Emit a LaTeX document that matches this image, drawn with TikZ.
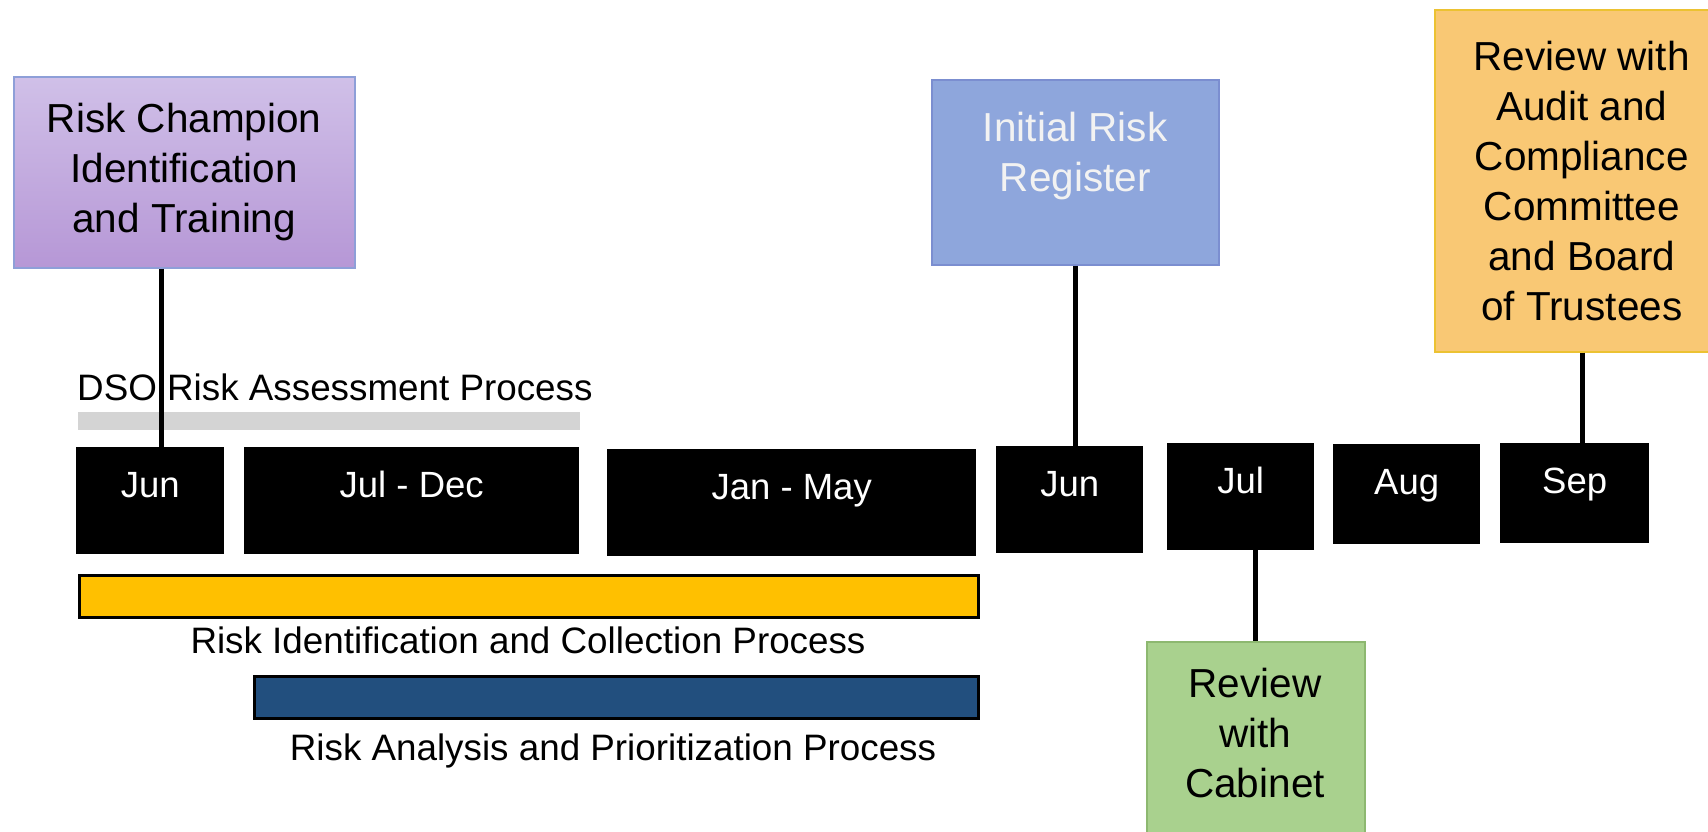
\documentclass[tikz,border=0pt]{standalone}
\usepackage{fontspec}
\setmainfont{Liberation Sans}
\definecolor{purpTop}{HTML}{D0C0E8}
\definecolor{purpBot}{HTML}{B697D6}
\definecolor{purpLine}{HTML}{8E9FD8}
\definecolor{regFill}{HTML}{8EA6DC}
\definecolor{regLine}{HTML}{7B8ED0}
\definecolor{audFill}{HTML}{F9C874}
\definecolor{audLine}{HTML}{ECC232}
\definecolor{grnFill}{HTML}{A9D18E}
\definecolor{grnLine}{HTML}{8DB870}
\definecolor{yelBar}{HTML}{FFC000}
\definecolor{bluBar}{HTML}{224F7E}
\definecolor{grayBar}{HTML}{D4D4D4}
\begin{document}
\begin{tikzpicture}[x=1pt,y=-1pt,
  lbl/.style={font=\fontsize{36.8}{44}\selectfont, inner sep=0pt},
  boxtext/.style={font=\fontsize{40.5}{50}\selectfont, align=center, inner sep=0pt},
  bigbox/.style={anchor=north west, inner sep=0pt, line width=1.5pt},
  month/.style={anchor=north west, fill=black, inner sep=0pt, text=white,
    font=\fontsize{36.5}{44}\selectfont, text height=50pt},
  bar/.style={anchor=north west, inner sep=0pt, draw=black, line width=3pt},
  conn/.style={line width=5pt, black}]
\useasboundingbox (0,0) rectangle (1708,831);

% top / bottom milestone boxes
\node[bigbox, draw=purpLine, top color=purpTop, bottom color=purpBot,
  minimum width=341, minimum height=191, boxtext] (champ) at (13,76)
  {Risk Champion\\Identification\\and Training};
\node[bigbox, draw=regLine, fill=regFill, minimum width=287, minimum height=185] (reg) at (931,79) {};
\node[boxtext, text=white!95!black] (regt) at ([yshift=16pt]reg.center) {Initial Risk\\Register};
\node[bigbox, draw=audLine, fill=audFill, minimum width=294, minimum height=342, boxtext] (aud) at (1434,9)
  {Review with\\Audit and\\Compliance\\Committee\\and Board\\of Trustees};
\node[bigbox, draw=grnLine, fill=grnFill, minimum width=218, minimum height=200] (grn) at (1146,641) {};
\node[boxtext] (grnt) at (1255,733) {Review\\with\\Cabinet};

% DSO process
\node[lbl, anchor=base west] (dso) at (77,400) {DSO Risk Assessment Process};
\node[anchor=north west, inner sep=0pt, fill=grayBar, minimum width=502, minimum height=18] (dsobar) at (78,412) {};

% months
\node[month, minimum width=148, minimum height=107, text depth=57pt] (m1) at (76,447) {Jun};
\node[month, minimum width=335, minimum height=107, text depth=57pt] (m2) at (244,447) {Jul - Dec};
\node[month, minimum width=369, minimum height=107, text depth=57pt] (m3) at (607,449) {Jan - May};
\node[month, minimum width=147, minimum height=107, text depth=57pt] (m4) at (996,446) {Jun};
\node[month, minimum width=147, minimum height=107, text depth=57pt] (m5) at (1167,443) {Jul};
\node[month, minimum width=147, minimum height=100, text depth=50pt] (m6) at (1333,444) {Aug};
\node[month, minimum width=149, minimum height=100, text depth=50pt] (m7) at (1500,443) {Sep};

% process bars
\node[bar, fill=yelBar, minimum width=899, minimum height=42] (ybar) at (78,574) {};
\node[lbl, anchor=base] (ytext) at (528,653) {Risk Identification and Collection Process};
\node[bar, fill=bluBar, minimum width=724, minimum height=42] (bbar) at (253,675) {};
\node[lbl, anchor=base] (btext) at (613,760) {Risk Analysis and Prioritization Process};

% connectors
\coordinate (cx1) at (161,0);
\draw[conn] (champ.south -| cx1) -- (m1.north -| cx1);
\draw[conn] (reg.south) -- (m4.north -| reg.south);
\coordinate (cx7) at (1582,0);
\draw[conn] (aud.south -| cx7) -- (m7.north -| cx7);
\draw[conn] (m5.south -| grn.north) -- (grn.north);
\end{tikzpicture}
\end{document}
